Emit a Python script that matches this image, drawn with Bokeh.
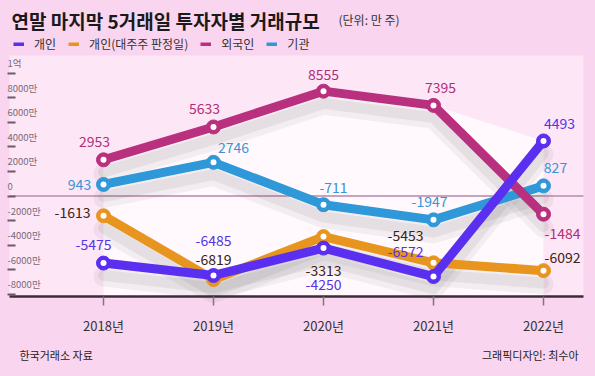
from bokeh.plotting import figure
from bokeh.models import (ColumnDataSource, Label, LabelSet, Legend, LegendItem,
                          Range1d, BoxAnnotation)
from bokeh.transform import dodge
from bokeh.core.properties import value
from bokeh.embed import file_html
from bokeh.resources import INLINE

# ---------------- data ----------------
years = [2018, 2019, 2020, 2021, 2022]
year_labels = ["2018년", "2019년", "2020년", "2021년", "2022년"]

individual = [-5475, -6485, -4250, -6572, 4493]          # 개인
individual_major = [-1613, -6819, -3313, -5453, -6092]   # 개인(대주주 판정일)
foreign = [2953, 5633, 8555, 7395, -1484]                # 외국인
institution = [943, 2746, -711, -1947, 827]              # 기관

series_names = ["개인", "개인(대주주 판정일)", "외국인", "기관"]

y_ticks = [10000, 8000, 6000, 4000, 2000, 0, -2000, -4000, -6000, -8000]
y_tick_labels = ["1억", "8000만", "6000만", "4000만", "2000만", "0",
                 "-2000만", "-4000만", "-6000만", "-8000만"]

title_text = "연말 마지막 5거래일 투자자별 거래규모"
unit_text = "(단위: 만 주)"
source_text = "한국거래소 자료"
credit_text = "그래픽디자인: 최수아"

# ---------------- layout (pixels) ----------------
W, H = 595, 376
X0_PX, PX_PER_YEAR = 103, 110          # pixel of first year, spacing
ZERO_PX, UNITS_PER_PX = 195.5, 81.6    # pixel of value 0, value per pixel
AXIS_PX, PANEL_TOP_PX = 296, 55
PANEL_LEFT_PX, PANEL_RIGHT_PX = 9, 583


def xv(px):
    return years[0] + (px - X0_PX) / PX_PER_YEAR


def yv(py):
    return (ZERO_PX - py) * UNITS_PER_PX


# ---------------- styles ----------------
FONT = "Noto Sans CJK KR"
line_colors = ["#5a2ff0", "#e8951f", "#b8307e", "#2f98d8"]
label_colors = ["#5533e6", "#3a2416", "#b02f78", "#3994d4"]
label_dx = [
    [-10, 0, 0, -28, 16],
    [-31, 0, 0, -28, 19],
    [-9, -9, 0, 7, 19],
    [-24, 20, 10, -4, 12],
]
label_dy = [
    [-19, -35, 36, -25, -17],
    [-3, -20, 34, -27, -13],
    [-18, -18, -17, -18, 19],
    [0, -15, -17, -18, -18],
]
draw_order = [3, 1, 2, 0]   # 기관, 대주주, 외국인, 개인 (top)

series = [individual, individual_major, foreign, institution]

p = figure(width=W, height=H,
           x_range=Range1d(xv(0), xv(W)),
           y_range=Range1d(yv(H), yv(0)),
           output_backend="svg", toolbar_location=None,
           min_border=0)

p.background_fill_color = "#fad5ef"
p.border_fill_color = "#fad5ef"
p.outline_line_color = None
p.grid.visible = False

# lighter chart panel
p.add_layout(BoxAnnotation(left=xv(PANEL_LEFT_PX), right=xv(PANEL_RIGHT_PX),
                           top=yv(PANEL_TOP_PX), bottom=yv(AXIS_PX),
                           fill_color="#fde6f6", fill_alpha=1, line_color=None,
                           level="underlay"))

# x axis (drawn inside the frame)
p.xaxis.fixed_location = yv(AXIS_PX)
p.xaxis.bounds = (xv(PANEL_LEFT_PX), xv(PANEL_RIGHT_PX))
p.xaxis.ticker = years
p.xaxis.major_label_overrides = dict(zip(years, year_labels))
p.xaxis.axis_line_color = "#3d2c38"
p.xaxis.axis_line_width = 2.5
p.xaxis.major_tick_out = 9
p.xaxis.major_tick_in = 0
p.xaxis.major_tick_line_color = "#7a7a7a"
p.xaxis.major_tick_line_width = 1.5
p.xaxis.minor_tick_line_color = None
p.xaxis.major_label_standoff = 10
p.xaxis.major_label_text_font = FONT
p.xaxis.major_label_text_font_size = "13px"
p.xaxis.major_label_text_color = "#333333"

# y axis: only short dashes, labels drawn separately
p.yaxis.fixed_location = xv(7)
p.yaxis.ticker = y_ticks
p.yaxis.major_label_overrides = {t: "" for t in y_ticks}
p.yaxis.major_label_standoff = 0
p.yaxis.axis_line_color = None
p.yaxis.major_tick_out = 0
p.yaxis.major_tick_in = 8
p.yaxis.major_tick_line_color = "#6e5a68"
p.yaxis.major_tick_line_width = 2
p.yaxis.minor_tick_line_color = None

# white panel under the top envelope
top_env = [max(v) for v in zip(*series)]
p.varea(x=years, y1=[yv(AXIS_PX)] * len(years), y2=top_env,
        fill_color="white", fill_alpha=0.75)

# zero line across the chart panel
p.segment(x0=[xv(PANEL_LEFT_PX)], x1=[xv(PANEL_RIGHT_PX)], y0=[0], y1=[0],
          line_color="#c9a2bf", line_width=2)

sources = [ColumnDataSource(dict(x=years, y=s)) for s in series]

# shadows
for i in draw_order:
    p.line(x="x", y=dodge("y", -1100), source=sources[i], line_width=20,
           line_color="#555555", line_alpha=0.07, line_join="round", line_cap="round")
    p.line(x="x", y=dodge("y", -1000), source=sources[i], line_width=11,
           line_color="#555555", line_alpha=0.09, line_join="round", line_cap="round")

# lines + markers
for i in draw_order:
    c = line_colors[i]
    p.line(x="x", y="y", source=sources[i], line_width=9, line_color=c,
           line_join="round", line_cap="round")
    p.scatter(x="x", y="y", source=sources[i], size=14, fill_color=c, line_color=c)
    p.scatter(x="x", y="y", source=sources[i], size=6, fill_color="white", line_color=None)

# data labels
for i in range(4):
    src = ColumnDataSource(dict(x=years, y=series[i],
                                t=[str(v) for v in series[i]],
                                dx=label_dx[i], dy=label_dy[i]))
    p.text(x="x", y="y", text="t", source=src, x_offset="dx", y_offset="dy",
           text_align="center", text_baseline="middle",
           text_font=value(FONT), text_font_size="14px",
           text_color=label_colors[i])

# y tick labels
ysrc = ColumnDataSource(dict(y=y_ticks, t=y_tick_labels))
p.add_layout(LabelSet(x=7, y="y", text="t", source=ysrc, x_units="screen",
                      y_offset=10, text_align="left", text_baseline="middle",
                      text_font=value(FONT), text_font_size="9.5px",
                      text_color="#7a6a75"))

# legend (short bars); single-point lines draw nothing in the plot
dummies = [p.line(x=years[:1], y=s[:1], line_width=4, line_color=c, line_cap="butt")
           for s, c in zip(series, line_colors)]
legend = Legend(items=[LegendItem(label=n, renderers=[r])
                       for n, r in zip(series_names, dummies)],
                orientation="horizontal", location=(13, H - 52),
                glyph_width=11, glyph_height=4, label_standoff=10, spacing=12,
                padding=0, margin=0, border_line_color=None,
                background_fill_alpha=0, label_height=14,
                label_text_font=FONT, label_text_font_size="12px",
                label_text_color="#333333", label_text_baseline="middle")
p.add_layout(legend, "center")

# title, unit, footer (screen units from frame bottom-left)
p.add_layout(Label(x=11, y=H - 20, x_units="screen", y_units="screen", text=title_text,
                   text_font=FONT, text_font_size="19px", text_font_style="bold",
                   text_color="#1a1a1a", text_baseline="middle"))
p.add_layout(Label(x=338, y=H - 19, x_units="screen", y_units="screen", text=unit_text,
                   text_font=FONT, text_font_size="12px", text_color="#333333",
                   text_baseline="middle"))
p.add_layout(Label(x=19, y=H - 354, x_units="screen", y_units="screen", text=source_text,
                   text_font=FONT, text_font_size="11px", text_color="#222222",
                   text_baseline="middle"))
p.add_layout(Label(x=578, y=H - 354, x_units="screen", y_units="screen", text=credit_text,
                   text_font=FONT, text_font_size="11px", text_color="#222222",
                   text_baseline="middle", text_align="right"))

template = ("{% block preamble %}<style>html, body{margin:0 !important;padding:0;"
            "background:#fad5ef;overflow:hidden;}</style>{% endblock %}")
open("out.html", "w").write(file_html(p, INLINE, template=template))
